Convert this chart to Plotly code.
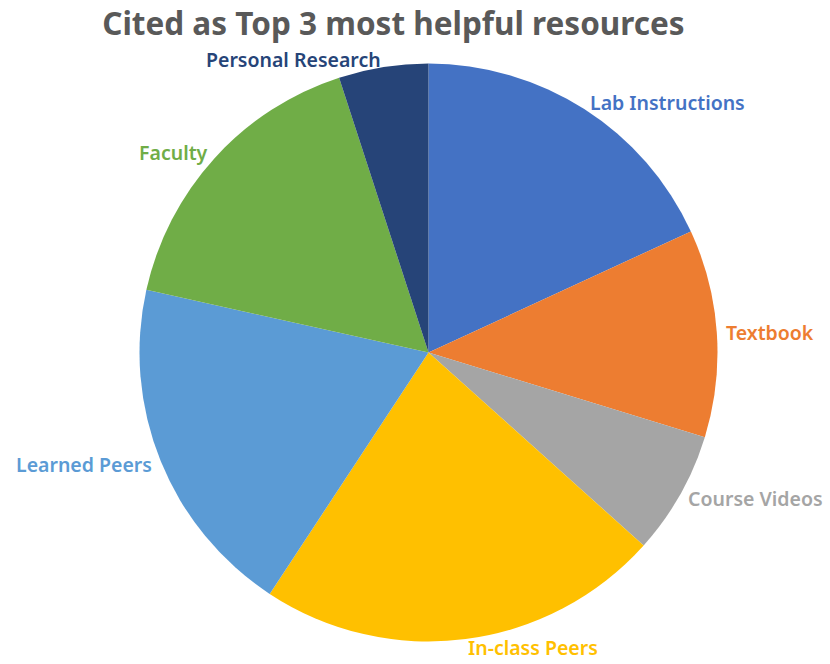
import math
import plotly.graph_objects as go

categories = ["Lab Instructions", "Textbook", "Course Videos", "In-class Peers",
              "Learned Peers", "Faculty", "Personal Research"]
values = [18.1, 11.6, 6.9, 22.6, 19.2, 16.5, 5.0]
colors = ["#4472C4", "#ED7D31", "#A5A5A5", "#FFC000", "#5B9BD5", "#70AD47", "#264478"]

W, H = 830, 664
cx, cy, r = 428.5, 352.5, 289
gap = 8

fig = go.Figure(go.Pie(
    labels=categories,
    values=values,
    sort=False,
    direction="clockwise",
    rotation=0,
    marker=dict(colors=colors, line=dict(color="white", width=0)),
    textinfo="none",
    domain=dict(x=[(cx - r) / W, (cx + r) / W], y=[1 - (cy + r) / H, 1 - (cy - r) / H]),
    showlegend=False,
    hoverinfo="label+percent",
))

# outside labels placed at each slice's mid-angle, derived from the values
total = sum(values)
cum = 0.0
annotations = []
for lab, v, col in zip(categories, values, colors):
    mid = (cum + v / 2) / total * 2 * math.pi
    cum += v
    s, c = math.sin(mid), math.cos(mid)
    R = r + gap
    px = cx + R * s
    py = cy - R * c
    xa = "left" if s > 0 else "right"
    annotations.append(dict(
        x=px / W, y=1 - py / H, xref="paper", yref="paper",
        text=lab, showarrow=False, xanchor=xa, yanchor="middle",
        font=dict(family="Noto Sans", size=19.5, color=col, weight=600),
        borderpad=0,
    ))

fig.update_layout(
    width=W, height=H,
    margin=dict(l=0, r=0, t=0, b=0),
    paper_bgcolor="white",
    annotations=annotations,
    title=dict(text="<b>Cited as Top 3 most helpful resources</b>",
               font=dict(family="Noto Sans", size=31.5, color="#595959"),
               x=0.474, xanchor="center", y=0.964, yanchor="middle"),
)

fig.write_html("out.html")
